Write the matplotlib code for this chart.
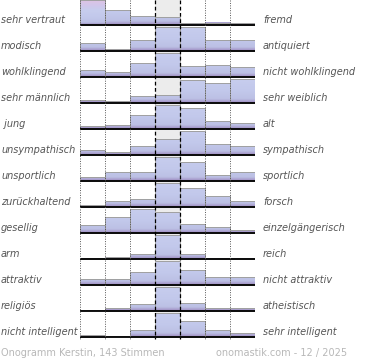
import numpy as np
import matplotlib
matplotlib.use("Agg")
import matplotlib.pyplot as plt
from matplotlib.colors import to_rgb

left_labels = ["sehr vertraut", "modisch", "wohlklingend", "sehr männlich", " jung",
               "unsympathisch", "unsportlich", "zurückhaltend", "gesellig", "arm",
               "attraktiv", "religiös", "nicht intelligent"]
right_labels = ["fremd", "antiquiert", "nicht wohlklingend", "sehr weiblich", "alt",
                "sympathisch", "sportlich", "forsch", "einzelgängerisch", "reich",
                "nicht attraktiv", "atheistisch", "sehr intelligent"]

# bar heights per row (7 steps), 24 = full row height
sehr_vertraut = [40, 15, 9, 8, 2, 2.5, 2]
modisch = [8, 2, 11, 24, 24, 11, 11]
wohlklingend = [7, 5, 14, 24, 11, 12, 10]
maennlich = [3, 2, 7, 8, 23, 20, 24]
jung = [3, 4, 14, 24, 21, 8, 6]
unsympathisch = [5, 3, 9, 16, 24, 11, 9]
unsportlich = [4, 9, 9, 24, 19, 6, 9]
zurueckhaltend = [2, 6, 8, 24, 19, 11, 6]
gesellig = [8, 16, 24, 21, 9, 6, 3]
arm = [1, 2, 5, 24, 5, 0.5, 1]
attraktiv = [6, 6, 13, 24, 15, 8, 8]
religioes = [0, 3, 7, 24, 8, 3, 3]
nicht_intelligent = [2, 0, 7, 24, 16, 7, 4]

rows = [sehr_vertraut, modisch, wohlklingend, maennlich, jung, unsympathisch,
        unsportlich, zurueckhaltend, gesellig, arm, attraktiv, religioes,
        nicht_intelligent]

footer_left = "Onogramm Kerstin, 143 Stimmen"
footer_right = "onomastik.com - 12 / 2025"

W, H = 370, 360
fig = plt.figure(figsize=(W / 100, H / 100), dpi=100)
fig.patch.set_facecolor("white")

AX_TOP, AX_BOT = 0, 340
ax = fig.add_axes([80 / W, (H - AX_BOT) / H, 175 / W, (AX_BOT - AX_TOP) / H])
ax.set_xlim(0, 7)
ax.set_ylim(AX_BOT, AX_TOP)
ax.axis("off")

CAP = 25.0
PITCH = 26.0
FIRST_BASE = 25.0

# gradient colour stops (height above baseline in units)
stops_h = np.array([0, 1.5, 4, 12, 24, 32, 40])
stops_c = np.array([to_rgb(c) for c in ["#9c8cc0", "#a89ccc", "#bcc0e4", "#c2c8eb",
                                         "#c7cdee", "#d2c6ea", "#dec3e4"]])

def grad_color(h):
    return np.array([np.interp(h, stops_h, stops_c[:, k]) for k in range(3)]).T

for i, vals in enumerate(rows):
    base = FIRST_BASE + PITCH * i
    # middle column background
    ax.bar(3.5, -CAP, bottom=base, width=1.0, color="#ececec", zorder=0.5, linewidth=0)
    for j, v in enumerate(vals):
        if v <= 0:
            continue
        disp = min(v, CAP)
        n = 60
        hs = np.linspace(v, 0, n)  # top to bottom in true height
        img = grad_color(hs).reshape(n, 1, 3)
        ax.imshow(img, extent=(j, j + 1, base, base - disp), aspect="auto",
                  interpolation="bilinear", zorder=1)
        ax.bar(j + 0.5, -disp, bottom=base, width=1.0, fill=False,
               edgecolor="#a0a0a0", linewidth=0.7, zorder=1.5)
    ax.plot([0, 7], [base - 0.8, base - 0.8], color="#888888", lw=0.6, zorder=2,
            solid_capstyle="butt")
    ax.plot([0, 7], [base, base], color="black", lw=1.3, zorder=3,
            solid_capstyle="butt")
    fig.text(1 / W, 1 - (base - 2) / H, left_labels[i], fontsize=7, style="italic",
             color="#555555", ha="left", va="baseline")
    fig.text(263 / W, 1 - (base - 2) / H, right_labels[i], fontsize=7, style="italic",
             color="#555555", ha="left", va="baseline")

ax.set_ylim(AX_BOT, AX_TOP)
ax.set_xlim(0, 7)

for x in [0, 1, 2, 5, 6, 7]:
    ax.plot([x, x], [AX_TOP, 339], color="#555555", lw=0.7, linestyle=(0, (1, 1.5)),
            zorder=4)
for x in [3, 4]:
    ax.plot([x, x], [AX_TOP, 339], color="black", lw=0.9, linestyle=(0, (3, 2)),
            zorder=4)

fig.text(1 / W, 1 - 356 / H, footer_left, fontsize=7, color="#b8b8b8",
         ha="left", va="baseline")
fig.text(347 / W, 1 - 356 / H, footer_right, fontsize=7, color="#b8b8b8",
         ha="right", va="baseline")

fig.savefig("out.png", dpi=100, facecolor="white")
